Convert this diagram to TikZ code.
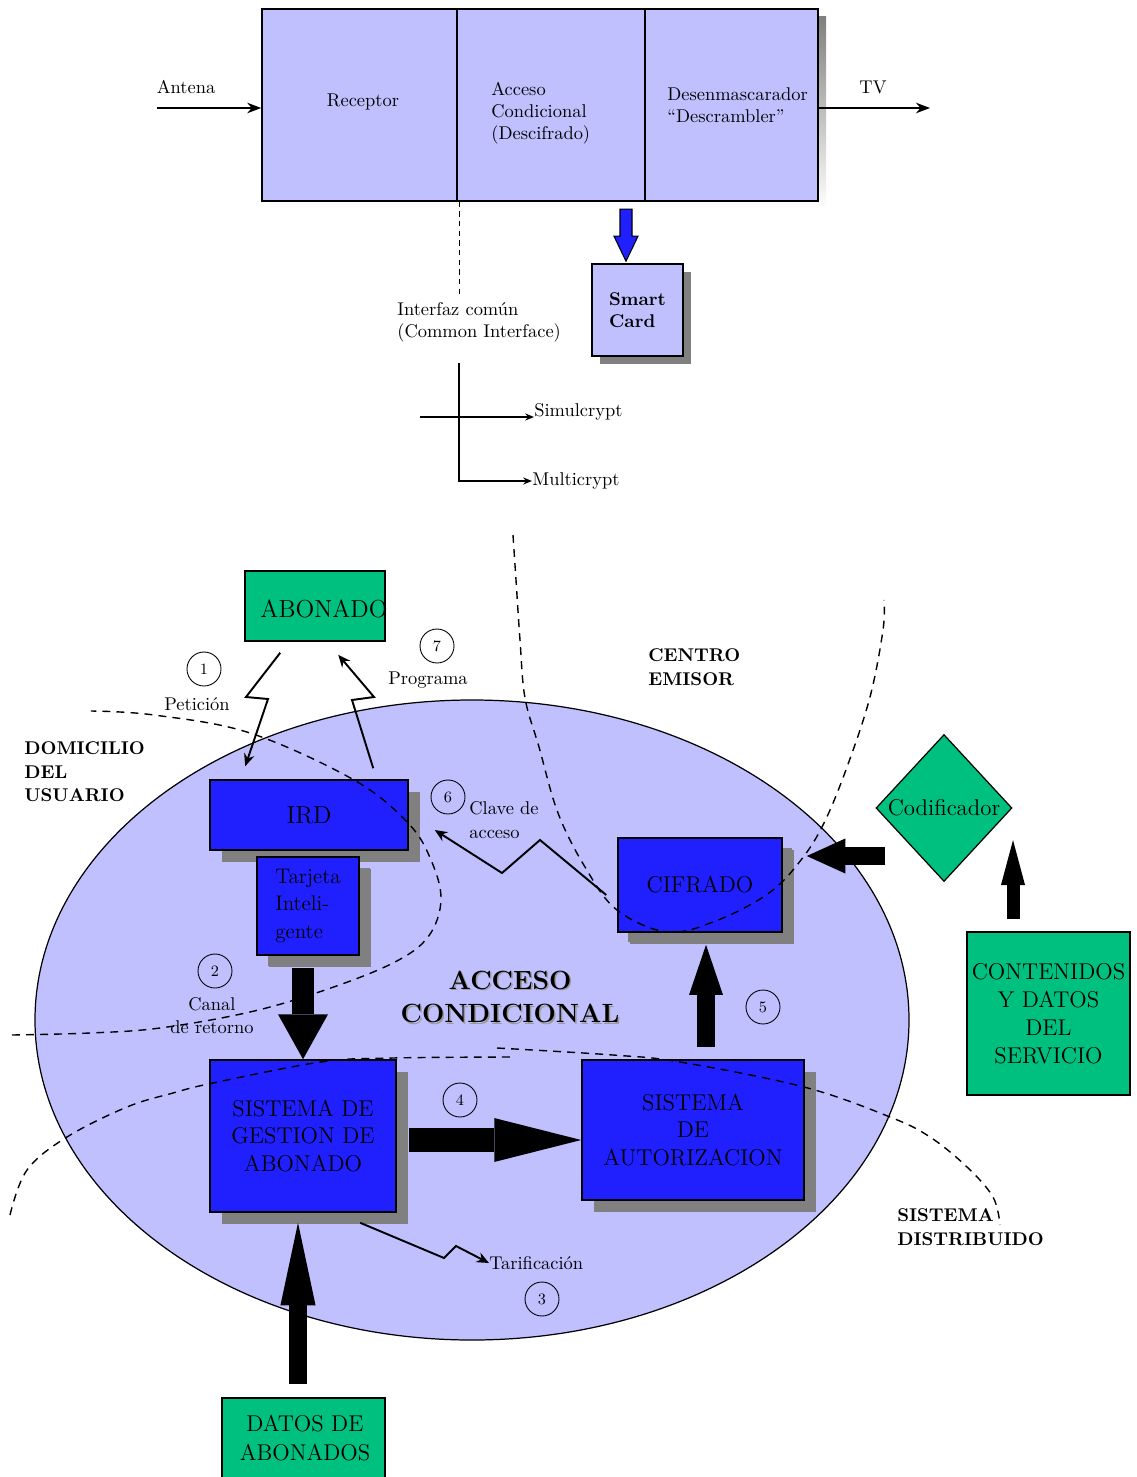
\documentclass[tikz,border=0pt]{standalone}
\usepackage{fontspec}
\usetikzlibrary{arrows.meta,calc,shapes.geometric,shadows}
\definecolor{lav}{RGB}{192,192,255}
\definecolor{boxblue}{RGB}{32,32,255}
\definecolor{boxgreen}{RGB}{0,192,128}
\definecolor{shade}{RGB}{128,128,128}

\begin{document}
\begin{tikzpicture}[x=0.02cm,y=-0.02cm,
  lbl/.style={font=\fontsize{10.5}{12.5}\selectfont, inner sep=0pt},
  bold lbl/.style={font=\fontsize{10.5}{13.4}\selectfont\bfseries, inner sep=0pt, align=left},
  panel/.style={draw=black, line width=0.9pt, fill=lav, inner sep=0pt},
  bluebox/.style={draw=black, line width=0.9pt, fill=boxblue, inner sep=0pt, align=center,
    font=\fontsize{13}{15.8}\selectfont,
    drop shadow={shadow xshift=6.8pt, shadow yshift=-6.8pt, fill=shade, opacity=1}},
  greenbox/.style={draw=black, line width=0.9pt, fill=boxgreen, inner sep=0pt, align=center,
    font=\fontsize{13}{16}\selectfont},
  circ/.style={circle, draw, line width=0.5pt, minimum size=0.68cm, inner sep=0pt,
    font=\fontsize{9}{9}\selectfont},
  thinarrow/.style={line width=1pt, -{Stealth[length=8pt,width=6pt]}},
  smallarrow/.style={line width=1pt, -{Stealth[length=5pt,width=4pt]}},
  zigzag/.style={line width=1.1pt, -{Stealth[length=7pt,width=6pt]}, line join=miter},
  dsh/.style={line width=0.8pt, dash pattern=on 4.5pt off 3.5pt},
]
\useasboundingbox (0,0) rectangle (1136,1477);

% ---------- receiver chain ----------
\fill[shade] (270,17) rectangle (826,209);
\node[panel, minimum width=3.9cm,  minimum height=3.84cm] (rec) at (359.5,105) {};
\node[panel, minimum width=3.76cm, minimum height=3.84cm] (acc) at (551,105) {};
\node[panel, minimum width=3.46cm, minimum height=3.84cm] (des) at (731.5,105) {};

\node[lbl] (trec) at (363,102) {Receptor};
\node[lbl, anchor=west, align=left] (tacc) at (491,113) {Acceso\\Condicional\\(Descifrado)};
\node[lbl, anchor=west, align=left] (tdes) at (667,105) {Desenmascarador\\“Descrambler”};

\node[lbl] (tant) at (186,87) {Antena};
\coordinate (antin) at (157,108);
\draw[thinarrow] (antin) -- (antin -| rec.west);
\node[lbl] (ttv) at (873,87) {TV};
\coordinate (tvout) at (930,108);
\draw[thinarrow] (des.east |- tvout) -- (tvout);

% smart card and its feed
\node[panel, minimum width=1.82cm, minimum height=1.84cm, align=left,
  font=\fontsize{10.5}{12.5}\selectfont\bfseries,
  drop shadow={shadow xshift=4.6pt, shadow yshift=-4.6pt, fill=shade, opacity=1}]
  (card) at (637.5,310) {Smart\\Card};
\coordinate (cardtip) at ($(card.north)+(-11.5,-2)$);
\draw[line width=0.6pt, fill=boxblue] (cardtip) -- ++(-12,-25) -- ++(6,0) -- ++(0,-27)
  -- ++(12,0) -- ++(0,27) -- ++(6,0) -- cycle;

% common interface
\draw[line width=0.6pt, dash pattern=on 3pt off 2.5pt] ($(rec.south east)+(2,0)$) -- ++(0,92);
\node[lbl, anchor=west, align=left] (tci) at (397,322) {Interfaz común\\(Common Interface)};
\node[lbl, anchor=west] (sim) at (534,412) {Simulcrypt};
\node[lbl, anchor=west] (mul) at (532,481) {Multicrypt};
\coordinate (cistem) at (459,363);
\coordinate (simin) at (420,417);
\draw[smallarrow] (cistem) |- (mul.west);
\draw[smallarrow] (simin) -- (simin -| sim.west);

% ---------- conditional access system ----------
\draw[fill=lav, line width=0.7pt] (472,1020) ellipse [x radius=437, y radius=320];

\node[greenbox, minimum width=2.8cm, minimum height=1.4cm] (abon) at (315,606) {};
\node[font=\fontsize{14}{16}\selectfont] (tabon) at (324,609) {ABONADO};

\node[bluebox, minimum width=3.96cm, minimum height=1.4cm, font=\fontsize{14}{16}\selectfont]
  (ird) at (309,815) {IRD};
\node[bluebox, minimum width=2.04cm, minimum height=1.96cm, align=left,
  font=\fontsize{12}{15.4}\selectfont\addfontfeature{LetterSpace=8},
  drop shadow={shadow xshift=6.3pt, shadow yshift=-6.3pt, fill=shade, opacity=1}]
  (tarj) at (308,906) {Tarjeta\\Inteli-\\gente};
\node[bluebox, minimum width=3.72cm, minimum height=3.04cm] (sg) at (303,1136)
  {SISTEMA DE\\GESTION DE\\ABONADO};
\node[bluebox, minimum width=4.44cm, minimum height=2.8cm] (sa) at (693,1130)
  {SISTEMA\\DE\\AUTORIZACION};
\node[bluebox, minimum width=3.28cm, minimum height=1.88cm,
  drop shadow={shadow xshift=5.7pt, shadow yshift=-5.7pt, fill=shade, opacity=1}]
  (cif) at (700,885) {CIFRADO};
\node[diamond, draw=black, line width=0.7pt, fill=boxgreen, minimum width=2.72cm,
  minimum height=2.94cm, inner sep=0pt] (cod) at (944,808) {};
\node[font=\fontsize{13}{15}\selectfont] (tcod) at (944,808) {Codificador};
\node[greenbox, minimum width=3.26cm, minimum height=3.26cm] (cont) at (1048.5,1013.5)
  {CONTENIDOS\\Y DATOS\\DEL\\SERVICIO};
\node[greenbox, minimum width=3.26cm, minimum height=1.68cm] (datos) at (303.5,1440) {};
\node[font=\fontsize{13}{16.5}\selectfont, align=center] (tdatos) at (305,1438) {DATOS DE\\ABONADOS};

% block arrows
\draw[line width=12.5pt, -{Triangle[length=25.6pt,width=28.5pt,line width=0pt]}]
  ($(tarj.south -| sg.north)+(0,12)$) -- (sg.north);
\draw[line width=13.7pt, -{Triangle[length=49.5pt,width=25pt,line width=0pt]}]
  ($(sg.east)+(12,4)$) -- ($(sg.east -| sa.west)+(0,4)$);
\draw[line width=9.7pt, -{Triangle[length=28.5pt,width=19.3pt,line width=0pt]}]
  ($(sa.north)+(13,-12)$) -- ($(cif.south)+(6,12)$);
\draw[line width=10.2pt, -{Triangle[length=22pt,width=20pt,line width=0pt]}]
  ($(cod.west)+(10,48)$) -- ($(cif.east)+(24,-29)$);
\draw[line width=7.4pt, -{Triangle[length=25.6pt,width=13.7pt,line width=0pt]}]
  ($(cont.north)+(-35.5,-12)$) -- ($(cod.south)+(69,-42)$);
\draw[line width=10.2pt, -{Triangle[length=47pt,width=20pt,line width=0pt]}]
  ($(datos.north)+(-5.5,-13)$) -- ($(sg.south)+(-5,10)$);

% zigzag signal arrows
\draw[zigzag] ($(abon.south west)+(36,11)$) -- (246,697) -- (268,699) -- ($(ird.north west)+(36,-13)$);
\draw[zigzag] ($(ird.north west)+(164,-11)$) -- (352,700) -- (374,697) -- ($(abon.south west)+(94,13)$);
\draw[zigzag] ($(cif.west)+(-11,10)$) -- (540,840) -- (502,873) -- ($(ird.east)+(26,15)$);
\node[lbl, anchor=west] (ttar) at (489,1263) {Tarificación};
\draw[zigzag] ($(sg.south west)+(151,10)$) -- (444,1258) -- (456,1246) -- (ttar.west);

% domain boundaries
\draw[dsh] plot[smooth, tension=0.6] coordinates {(12,1035) (90,1033) (160,1028) (250,1012)
  (325,990) (393,963) (428,937) (441,900) (431,860) (408,823) (354,780) (250,733) (154,715) (91,711)};
\draw[dsh] plot[smooth, tension=0.6] coordinates {(513,535) (516,580) (520,640) (525,698)
  (539,747) (558,813) (585,867) (617,910) (668,932) (718,920) (769,893) (801,860) (824,823)
  (847,767) (870,697) (883,630) (884,600)};
\draw[dsh] plot[smooth, tension=0.6] coordinates {(10,1215) (27,1170) (67,1137) (127,1107)
  (173,1093) (213,1083) (321,1062) (393,1058) (513,1057)};
\draw[dsh] plot[smooth, tension=0.6] coordinates {(497,1048) (613,1055) (680,1062) (804,1087)
  (890,1117) (930,1137) (967,1167) (993,1197) (1000,1225)};

% step numbers
\node[circ] (c1) at (204,669) {1};
\node[circ] (c7) at (437,646) {7};
\node[circ] (c6) at (448,797) {6};
\node[circ] (c2) at (215,971) {2};
\node[circ] (c4) at (460,1100) {4};
\node[circ] (c5) at (763,1007) {5};
\node[circ] (c3) at (542,1299) {3};

% labels
\node[lbl] (tpet) at (197,704) {Petición};
\node[lbl] (tprog) at (428,680) {Programa};
\node[lbl, anchor=west, align=left, font=\fontsize{10.5}{13.6}\selectfont] (tclave) at (469,820) {Clave de\\acceso};
\node[lbl, align=center, font=\fontsize{10.5}{13}\selectfont] (tcanal) at (212,1016) {Canal\\de retorno};
\node[bold lbl, anchor=west] (tdom) at (24,772) {DOMICILIO\\DEL\\USUARIO};
\node[bold lbl, anchor=west] (tcen) at (648,667) {CENTRO\\EMISOR};
\node[bold lbl, anchor=west] (tdis) at (897,1227) {SISTEMA\\DISTRIBUIDO};
\node[font=\fontsize{15}{19}\selectfont\bfseries, align=center, text=shade!80] at (511.5,998.5) {ACCESO\\CONDICIONAL};
\node[font=\fontsize{15}{19}\selectfont\bfseries, align=center] (tac) at (510,997) {ACCESO\\CONDICIONAL};
\end{tikzpicture}
\end{document}
